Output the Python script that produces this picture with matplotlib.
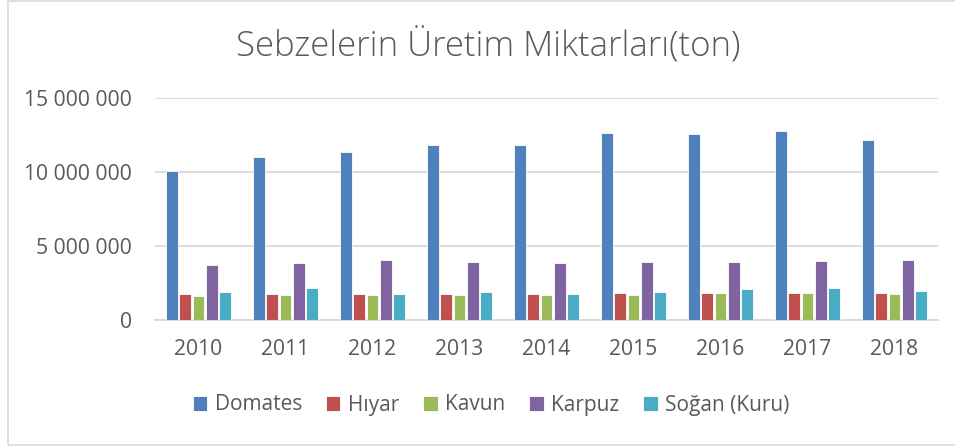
import matplotlib
matplotlib.use("Agg")
import matplotlib.pyplot as plt
from matplotlib.patches import Rectangle
from matplotlib.ticker import FuncFormatter
import numpy as np

years = ["2010", "2011", "2012", "2013", "2014", "2015", "2016", "2017", "2018"]
series_names = ["Domates", "Hıyar", "Kavun", "Karpuz", "Soğan (Kuru)"]
domates = [10052000, 11003433, 11350000, 11820000, 11850000, 12615000, 12600000, 12750000, 12150000]
hiyar = [1739191, 1749154, 1741878, 1754613, 1780000, 1822000, 1811681, 1827782, 1848273]
kavun = [1611702, 1666610, 1708415, 1699136, 1715000, 1708000, 1854356, 1792000, 1750000]
karpuz = [3683103, 3864489, 4044184, 3887324, 3870000, 3906000, 3928892, 4011313, 4031174]
sogan = [1900000, 2141373, 1735851, 1904846, 1790000, 1879000, 2120000, 2175000, 1930695]
colors = ["#4F81BD", "#C0504D", "#9BBB59", "#8064A2", "#4BACC6"]

plt.rcParams['font.family'] = ['Open Sans', 'DejaVu Sans']
fig = plt.figure(figsize=(9.55, 4.46), dpi=100)
fig.patches.append(Rectangle((7.5/955, 1/446), 1.2, 444/446, transform=fig.transFigure,
                             fill=False, edgecolor="#D9D9D9", linewidth=1.2, zorder=0))
ax = fig.add_axes([155/955, (446-320)/446, (938-155)/955, (320-98)/446])

data = [domates, hiyar, kavun, karpuz, sogan]
x = np.arange(len(years))
step = 0.154
w = 0.135
for i, (vals, c, name) in enumerate(zip(data, colors, series_names)):
    ax.bar(x + (i - 2) * step, vals, width=w, color=c, label=name,
           edgecolor="white", linewidth=0.6, zorder=3)

ax.set_xlim(-0.5, len(years) - 0.5)
ax.set_ylim(0, 15000000)
ax.set_yticks([0, 5000000, 10000000, 15000000])
ax.yaxis.set_major_formatter(FuncFormatter(lambda v, p: f"{int(v):,}".replace(",", " ")))
ax.set_xticks(x)
ax.set_xticklabels(years)
ax.grid(axis="y", color="#D9D9D9", linewidth=1.3, zorder=0)
for s in ["top", "right", "left"]:
    ax.spines[s].set_visible(False)
ax.spines["bottom"].set_color("#D9D9D9")
ax.spines["bottom"].set_linewidth(1.3)
ax.tick_params(axis="both", length=0, labelsize=15.2, colors="#595959")
ax.tick_params(axis="y", pad=16.5)
ax.tick_params(axis="x", pad=14)

fig.text(488/955, 1 - 45/446, "Sebzelerin Üretim Miktarları(ton)", ha="center", va="center",
         fontsize=25, color="#595959", fontweight="light")

leg = fig.legend(loc="center", bbox_to_anchor=(491/955, 1 - 405/446), ncol=5, frameon=False,
                 fontsize=15, handlelength=0.7, handleheight=0.7, handletextpad=0.35,
                 columnspacing=1.15)
for t in leg.get_texts():
    t.set_color("#595959")

fig.savefig("out.png", dpi=100)
